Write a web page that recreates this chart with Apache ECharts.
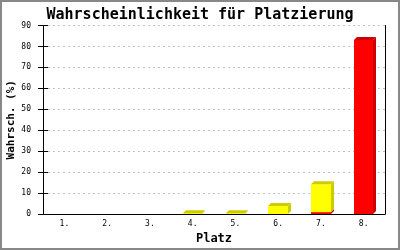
<!DOCTYPE html>
<html><head><meta charset="utf-8">
<script src="https://cdn.jsdelivr.net/npm/echarts@6/dist/echarts.min.js"></script>
<style>html,body{margin:0;padding:0;background:#fff}#c{width:400px;height:250px}</style>
</head><body><div id="c"></div>
<script>
const categories = ['1.','2.','3.','4.','5.','6.','7.','8.'];
const redValues = [0,0,0,0,0,0,0.9,83.1];
const yellowValues = [0,0,0,0.4,0.4,3.8,13.3,0];
const yTicks = [0,10,20,30,40,50,60,70,80,90];

const FONT = '"DejaVu Sans Mono", "Liberation Mono", monospace';
const D = 3;
const colors = {
  red: {front:'#ff0000', dark:'#cc0000'},
  yellow: {front:'#ffff00', dark:'#cccc00'}
};

const data = categories.map((c,i)=>[i, redValues[i], yellowValues[i]]);

function renderItem(params, api){
  const i = api.value(0);
  const r = api.value(1), y = api.value(2);
  const band = api.size([1,0])[0];
  const w = band*0.46;
  const base = api.coord([i,0]);
  const cx = base[0];
  const x0 = Math.round(cx - w/2), x1 = Math.round(cx + w/2);
  const segs = [];
  let acc = 0;
  if (r>0) { segs.push({from:acc, to:acc+r, col:colors.red}); acc+=r; }
  if (y>0) { segs.push({from:acc, to:acc+y, col:colors.yellow}); acc+=y; }
  const children = [];
  segs.forEach((s,k)=>{
    const yb = api.coord([i,s.from])[1];
    const yt = api.coord([i,s.to])[1];
    children.push({type:'rect', shape:{x:x0,y:yt,width:x1-x0,height:yb-yt}, style:{fill:s.col.front, stroke:null, lineWidth:0}});
    children.push({type:'polygon', shape:{points:[[x1,yt],[x1+D,yt-D],[x1+D,yb-D],[x1,yb]]}, style:{fill:s.col.dark, stroke:null, lineWidth:0}});
    if (k===segs.length-1){
      children.push({type:'polygon', shape:{points:[[x0,yt],[x0+D,yt-D],[x1+D,yt-D],[x1,yt]]}, style:{fill:s.col.dark, stroke:null, lineWidth:0}});
    }
  });
  return {type:'group', children};
}

const chart = echarts.init(document.getElementById('c'), null, {renderer:'canvas'});
chart.setOption({
  animation:false,
  backgroundColor:'#fff',
  title:{text:'Wahrscheinlichkeit für Platzierung', left:'center', top:3,
    textStyle:{fontFamily:FONT, fontSize:15, fontWeight:'bold', color:'#000'}},
  grid:{left:43, right:15, top:25.5, bottom:36, outerBoundsMode:'none', containLabel:false},
  xAxis:{type:'category', data:categories, name:'Platz', nameLocation:'middle', nameGap:19, nameMoveOverlap:false,
    nameTextStyle:{fontFamily:FONT, fontSize:12, fontWeight:'bold', color:'#000'},
    axisLine:{lineStyle:{color:'#000', width:1}}, axisTick:{show:false},
    axisLabel:{fontFamily:FONT, fontSize:8, color:'#000', margin:6}},
  yAxis:[{type:'value', min:0, max:90, interval:10, name:'Wahrsch. (%)', nameLocation:'middle', nameGap:26, nameMoveOverlap:false,
    nameTextStyle:{fontFamily:FONT, fontSize:11, fontWeight:'bold', color:'#000'},
    axisLine:{show:true, lineStyle:{color:'#000'}},
    axisTick:{show:true, length:5, lineStyle:{color:'#000'}},
    axisLabel:{fontFamily:FONT, fontSize:8, color:'#000', margin:12,
      formatter:v=> yTicks.includes(v)? String(v):''},
    splitLine:{show:true, lineStyle:{color:'#c0c0c0', type:[2,3]}}},
   {type:'value', min:0, max:90, interval:10, position:'left',
    axisLine:{show:false}, axisTick:{show:true, inside:true, length:5, lineStyle:{color:'#000'}},
    axisLabel:{show:false}, splitLine:{show:false}},
   {type:'value', min:0, max:90, interval:10, position:'right',
    axisLine:{show:true, lineStyle:{color:'#000'}}, axisTick:{show:false},
    axisLabel:{show:false}, splitLine:{show:false}}],
  series:[{type:'custom', renderItem, data, encode:{x:0, y:[1,2]}, z:5}],
  graphic:[{type:'rect', shape:{x:1,y:1,width:398,height:248}, style:{fill:'none', stroke:'#888', lineWidth:2}, z:100}]
});
</script></body></html>
